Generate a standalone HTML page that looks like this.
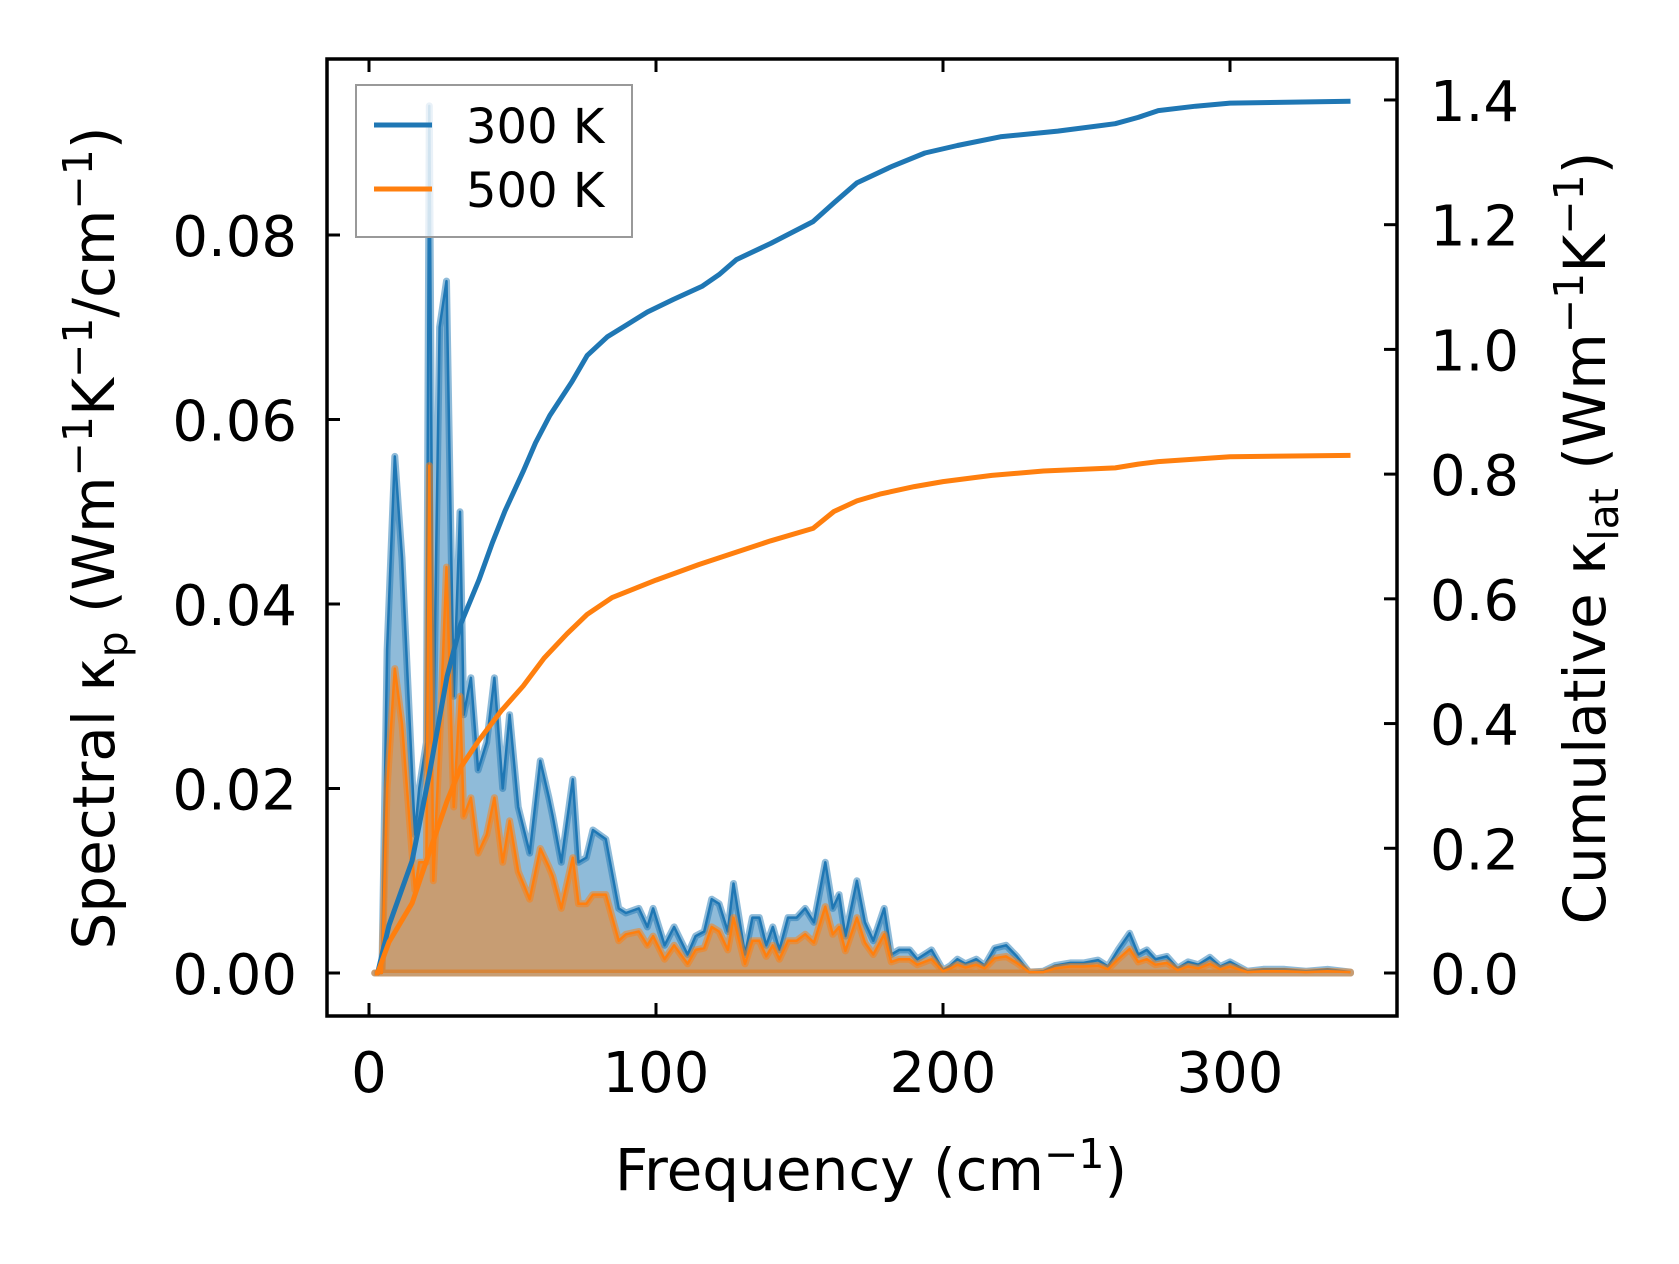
<!DOCTYPE html>
<html><head><meta charset="utf-8"><style>
html,body{margin:0;padding:0;background:#fff;}
svg{display:block;font-family:"DejaVu Sans","Liberation Sans",sans-serif;}
</style></head><body>
<svg id="chart" width="1679" height="1264" viewBox="0 0 1679 1264" xmlns="http://www.w3.org/2000/svg">
<rect width="1679" height="1264" fill="#fff"/>
<g id="marks"></g>
<g id="axes"></g>
</svg>
<script>
const freq = [2,4.5,6.3,9,11.5,16,17.5,20,21,22.4,24.6,27,29.5,31.7,33,35.5,38,41,43.7,46.6,49,52,56,59.7,62.7,64,67,71,73,75.7,78,82.5,87,89.5,94,97,99,103,106.3,111,113.8,116.8,119.4,122,125,127,131,133.6,136,138.4,140.7,143,146,149,152,155,159,161.6,163.8,166,170,172.8,175.7,179.5,182,184.7,188.4,191,196,200,202.6,205,207.8,211.6,214.5,218,222,225.7,230,235,239,244.4,249,254,257.5,261,265,268,271,274,278,281.7,285.4,289,293,296.6,300,306,311.6,319,326.5,334,342];
const spec300 = [0,0,0.035,0.056,0.045,0.015,0.02,0.025,0.094,0.025,0.07,0.075,0.03,0.05,0.028,0.032,0.022,0.025,0.032,0.02,0.028,0.018,0.013,0.023,0.019,0.017,0.012,0.021,0.012,0.0125,0.0155,0.0145,0.007,0.0065,0.007,0.005,0.007,0.003,0.005,0.002,0.004,0.0045,0.008,0.0075,0.0045,0.0097,0.002,0.006,0.006,0.003,0.005,0.0025,0.006,0.006,0.007,0.0055,0.012,0.007,0.0085,0.004,0.010,0.0055,0.0035,0.007,0.002,0.0025,0.0025,0.0015,0.0025,0.0003,0.0008,0.0015,0.001,0.0015,0.0008,0.0027,0.003,0.0018,0.0001,0.0002,0.0008,0.0011,0.0011,0.0014,0.0007,0.0025,0.0043,0.002,0.0025,0.0015,0.0018,0.0005,0.0012,0.0009,0.0017,0.0007,0.0012,0.0002,0.0004,0.0004,0.0002,0.0004,0.0001];
const spec500 = [0,0,0.02,0.033,0.027,0.009,0.012,0.012,0.055,0.010,0.025,0.044,0.018,0.030,0.017,0.019,0.013,0.015,0.019,0.012,0.0165,0.011,0.008,0.0135,0.0115,0.0105,0.007,0.0125,0.0075,0.0075,0.0085,0.0085,0.0035,0.0042,0.0045,0.003,0.004,0.0015,0.003,0.001,0.0025,0.0027,0.005,0.0045,0.0025,0.006,0.001,0.0035,0.0035,0.0018,0.003,0.0015,0.0035,0.0035,0.0042,0.0033,0.0072,0.0042,0.005,0.0024,0.006,0.0033,0.002,0.0042,0.0012,0.0015,0.0015,0.0009,0.0015,0.0002,0.0005,0.0009,0.0006,0.0009,0.0005,0.0016,0.0018,0.0011,0.0001,0.0001,0.0005,0.0007,0.0007,0.0008,0.0004,0.0015,0.0026,0.0012,0.0015,0.0009,0.0011,0.0003,0.0007,0.0005,0.001,0.0004,0.0007,0.0001,0.0002,0.0002,0.0001,0.0002,0.0001];
const cumFreq300 = [2,3,7,15,20.9,27.2,32,38.3,43,47.4,53.7,58,63,70.7,76,83,90,97,106,116,122,128,140,154.7,162,170,182,193.7,205,220,240,260,268,275,288,300,342];
const cum300 = [0,0,0.077,0.18,0.316,0.476,0.56,0.63,0.69,0.741,0.804,0.85,0.894,0.948,0.99,1.02,1.04,1.06,1.08,1.101,1.12,1.144,1.17,1.205,1.235,1.267,1.293,1.315,1.327,1.341,1.35,1.362,1.372,1.383,1.39,1.395,1.398];
const cumFreq500 = [2,3,7,15,20.9,27.2,32,38.3,46,53.7,61,69,76,84.7,100,115,128,140,154.7,162,170,178,190,200,217,235,260,268,275,300,342];
const cum500 = [0,0,0.05,0.112,0.192,0.276,0.33,0.373,0.42,0.46,0.505,0.544,0.575,0.602,0.63,0.655,0.675,0.693,0.713,0.74,0.757,0.768,0.78,0.788,0.798,0.805,0.81,0.816,0.82,0.828,0.83];
const xTicks = [0,100,200,300];
const xTickLabels = ["0","100","200","300"];
const yLeftTicks = [0,0.02,0.04,0.06,0.08];
const yLeftTickLabels = ["0.00","0.02","0.04","0.06","0.08"];
const yRightTicks = [0,0.2,0.4,0.6,0.8,1.0,1.2,1.4];
const yRightTickLabels = ["0.0","0.2","0.4","0.6","0.8","1.0","1.2","1.4"];

const NS = "http://www.w3.org/2000/svg";
const L = 327, R = 1397, T = 59, B = 1016;
function sx(f){ return 369 + 2.87 * f; }
function syL(v){ return 973 - 9225 * v; }
function syR(v){ return 973 - 623.6 * v; }
function mk(tag, attrs, parent){ const e = document.createElementNS(NS, tag); for (const k in attrs) e.setAttribute(k, attrs[k]); parent.appendChild(e); return e; }
const marks = document.getElementById('marks');
const axes = document.getElementById('axes');

function spectral(vals, fill, edge, name){
  const n = Math.min(freq.length, vals.length);
  let pts = [];
  for (let i = 0; i < n; i++) pts.push(sx(freq[i]).toFixed(1) + "," + syL(vals[i]).toFixed(1));
  const area = mk('polygon', {points: sx(freq[0]) + "," + syL(0) + " " + pts.join(" ") + " " + sx(freq[n-1]) + "," + syL(0), fill: fill, stroke: edge, 'stroke-opacity': 0.5, 'stroke-width': 7, 'stroke-linejoin': 'round'}, marks);
  
  
  const line = mk('polyline', {points: pts.join(" "), fill: 'none', stroke: edge, 'stroke-width': 2.5, 'stroke-linejoin': 'round'}, marks);
  
  
}
spectral(spec300, 'rgba(31,119,180,0.5)', '#1f77b4', 'spectral-300k');
spectral(spec500, 'rgba(255,127,14,0.5)', '#ff7f0e', 'spectral-500k');

function cumLine(fs, vs, color, name){
  const n = Math.min(fs.length, vs.length);
  let pts = [];
  for (let i = 0; i < n; i++) pts.push(sx(fs[i]).toFixed(1) + "," + syR(vs[i]).toFixed(1));
  const l = mk('polyline', {points: pts.join(" "), fill: 'none', stroke: color, 'stroke-width': 5, 'stroke-linejoin': 'round'}, marks);
  
  
}
cumLine(cumFreq300, cum300, '#1f77b4', 'cumulative-300k-line');
cumLine(cumFreq500, cum500, '#ff7f0e', 'cumulative-500k-line');

const frame = mk('rect', {x: L, y: T, width: R - L, height: B - T, fill: 'none', stroke: '#000', 'stroke-width': 3.5}, axes);



const TL = 13;
xTicks.forEach((t, i) => {
  const x = sx(t);
  const tb = mk('line', {x1: x, x2: x, y1: B, y2: B - TL, stroke: '#000', 'stroke-width': 3}, axes);
  
  
  const tt = mk('line', {x1: x, x2: x, y1: T, y2: T + TL, stroke: '#000', 'stroke-width': 3}, axes);
  
  
  const lb = mk('text', {x: x, y: 1092, 'text-anchor': 'middle', 'font-size': 56}, axes);
  lb.textContent = xTickLabels[i];
  
  
});
yLeftTicks.forEach((t, i) => {
  const y = syL(t);
  const tk = mk('line', {x1: L, x2: L + TL, y1: y, y2: y, stroke: '#000', 'stroke-width': 3}, axes);
  
  
  const lb = mk('text', {x: 297, y: y + 21, 'text-anchor': 'end', 'font-size': 56}, axes);
  lb.textContent = yLeftTickLabels[i];
  
  
});
yRightTicks.forEach((t, i) => {
  const y = syR(t);
  const tk = mk('line', {x1: R, x2: R - TL, y1: y, y2: y, stroke: '#000', 'stroke-width': 3}, axes);
  
  
  const lb = mk('text', {x: 1430, y: y + 21, 'text-anchor': 'start', 'font-size': 56}, axes);
  lb.textContent = yRightTickLabels[i];
  
  
});
</script>
<svg width="1679" height="1264" viewBox="0 0 1679 1264" style="position:absolute;left:0;top:0;font-family:'DejaVu Sans','Liberation Sans',sans-serif">
<text x="871" y="1190" text-anchor="middle" font-size="58">Frequency (cm<tspan dy="-22" font-size="41">−1</tspan><tspan dy="22">)</tspan></text>
<text transform="translate(114,538) rotate(-90)" text-anchor="middle" font-size="58">Spectral κ<tspan dy="13" font-size="41">p</tspan><tspan dy="-13"> (Wm</tspan><tspan dy="-22" font-size="41">−1</tspan><tspan dy="22">K</tspan><tspan dy="-22" font-size="41">−1</tspan><tspan dy="22">/cm</tspan><tspan dy="-22" font-size="41">−1</tspan><tspan dy="22">)</tspan></text>
<text transform="translate(1605,538) rotate(-90)" text-anchor="middle" font-size="58">Cumulative κ<tspan dy="13" font-size="41">lat</tspan><tspan dy="-13"> (Wm</tspan><tspan dy="-22" font-size="41">−1</tspan><tspan dy="22">K</tspan><tspan dy="-22" font-size="41">−1</tspan><tspan dy="22">)</tspan></text>
<g>
<rect x="356" y="85" width="276" height="152" fill="#fff" fill-opacity="0.8" stroke="#999" stroke-width="2"/>
<line x1="374" x2="432" y1="125" y2="125" stroke="#1f77b4" stroke-width="5"/>
<text x="466" y="143" font-size="48">300 K</text>
<line x1="374" x2="432" y1="189" y2="189" stroke="#ff7f0e" stroke-width="5"/>
<text x="466" y="207" font-size="48">500 K</text>
</g>
</svg>
</body></html>
